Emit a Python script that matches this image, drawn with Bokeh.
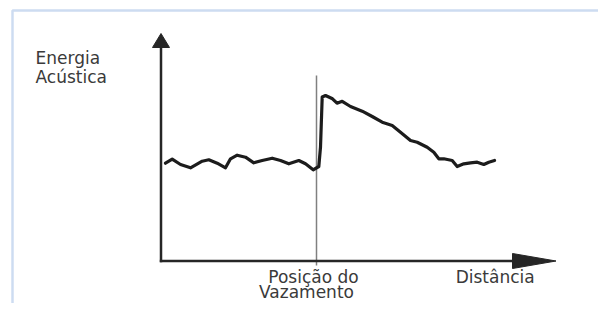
from bokeh.plotting import figure
from bokeh.models import Range1d, Label, BoxAnnotation, ColumnDataSource
from bokeh.embed import file_html
from bokeh.resources import INLINE

# Sketch data: distance along pipe vs. acoustic energy (arbitrary units)
distance = [4.5, 11.2, 19.5, 29.5, 41.2, 47.8, 56.2, 64.5, 69.5, 76.2, 84.5, 92.8,
            101.2, 111.2, 119.5, 127.8, 137.8, 144.5, 152.2, 157.8, 159.5, 161.2,
            164.5, 171.5, 176.0, 181.2, 189.5, 201.2, 211.2, 221.2, 231.2, 239.5,
            249.5, 256.2, 266.2, 272.8, 277.8, 282.8, 291.2, 296.2, 302.8, 309.5,
            316.2, 322.8, 327.8, 333.5]
energy = [97.8, 101.8, 96.5, 93.2, 99.8, 101.2, 97.8, 93.2, 102.2, 105.8, 103.8, 98.2,
          100.5, 102.8, 100.5, 97.2, 100.5, 97.2, 91.2, 94.5, 113.8, 164.0,
          165.5, 162.2, 157.8, 159.7, 154.5, 149.8, 144.5, 138.8, 135.5, 128.8,
          120.5, 118.8, 113.8, 108.8, 102.2, 102.2, 100.5, 94.5, 97.2, 98.2,
          98.8, 96.5, 98.8, 100.5]
leak_position = 155.5
leak_top = 185.5
x_axis_end = 395.0
y_axis_end = 227.5

y_label = ["Energia", "Acústica"]
x_label = "Distância"
leak_label = ["Posição do", "Vazamento"]

FONT = "DejaVu Sans"
TXT = "#3a3a3a"
AX = "#262626"

p = figure(width=598, height=303, output_backend="svg", toolbar_location=None,
           x_range=Range1d(-160.5, 437.5), y_range=Range1d(-42.5, 260.5),
           min_border=0, background_fill_color="white", border_fill_color="white")
p.axis.visible = False
p.grid.visible = False
p.outline_line_color = None

# frame border
p.add_layout(BoxAnnotation(left=-148.5, right=2000, top=250.5, bottom=-2000,
                           fill_alpha=0, line_color="#5b8bcf", line_width=2.5))

# leak position marker
p.segment(x0=[leak_position], y0=[-4.5], x1=[leak_position], y1=[leak_top],
          line_color="#808080", line_width=1.5)

# axes
head_len_x, head_half_x = 43.5, 7.5
head_len_y, head_half_y = 14.0, 8.5
p.segment(x0=[-1.2, 0], y0=[0, -1.2], x1=[x_axis_end - head_len_x + 1, 0],
          y1=[0, y_axis_end - head_len_y + 1], line_color=AX, line_width=2.5)
p.patch(x=[x_axis_end - head_len_x, x_axis_end, x_axis_end - head_len_x],
        y=[head_half_x, 0, -head_half_x], fill_color=AX, line_color=AX, line_width=1)
p.patch(x=[-head_half_y, 0, head_half_y],
        y=[y_axis_end - head_len_y, y_axis_end, y_axis_end - head_len_y],
        fill_color=AX, line_color=AX, line_width=1)

# curve
src = ColumnDataSource(dict(x=distance, y=energy))
p.line("x", "y", source=src, line_color="#1c1c1c", line_width=3.2,
       line_join="round", line_cap="round")

def lab(x, y, t, align="left"):
    p.add_layout(Label(x=x, y=y, text=t, text_font=FONT, text_font_size="17px",
                       text_color=TXT, text_align=align, text_baseline="alphabetic"))

lab(-125.5, 203.5, y_label[0])
lab(-125.5, 184.0, y_label[1])
lab(152.5, -16.0, leak_label[0], "center")
lab(145.5, -31.0, leak_label[1], "center")
lab(334.2, -16.0, x_label, "center")

open("out.html", "w").write(file_html(p, INLINE))
